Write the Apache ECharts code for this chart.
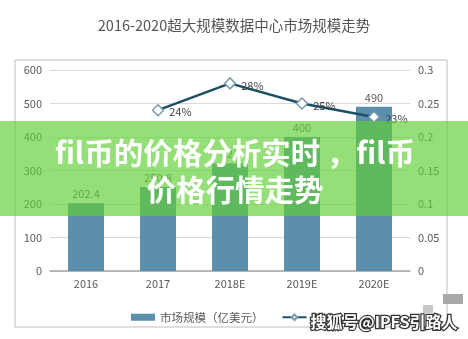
<!DOCTYPE html>
<html><head><meta charset="utf-8">
<script src="https://cdn.jsdelivr.net/npm/echarts@6/dist/echarts.min.js"></script>
<style>html,body{margin:0;padding:0;background:#fff}#c{width:468px;height:339px}</style>
</head><body><div id="c"></div>
<script>
const categories = ['2016', '2017', '2018E', '2019E', '2020E'];
const marketSize = [202.4, 250.8, 321, 400, 490];
const yoyGrowth = [null, 0.24, 0.28, 0.25, 0.23];
const leftTicks = [0, 100, 200, 300, 400, 500, 600];
const rightTicks = [0, 0.05, 0.1, 0.15, 0.2, 0.25, 0.3];
const titleText = '2016-2020超大规模数据中心市场规模走势';
const barName = '市场规模（亿美元）';
const lineName = 'YoY';
const bannerLines = ['fil币的价格分析实时 ，fil币', '价格行情走势'];
const watermark = '搜狐号@IPFS引路人';

const font = '"Noto Sans CJK SC", "Liberation Sans", sans-serif';
const chart = echarts.init(document.getElementById('c'));
chart.setOption({
  animation: false,
  backgroundColor: '#fff',
  title: { text: titleText, left: 'center', top: 13,
    textStyle: { fontFamily: font, fontSize: 14.5, fontWeight: 'normal', color: '#555' } },
  grid: { left: 50, right: 58, top: 70, bottom: 68 },
  legend: {
    bottom: 11, left: 126, itemGap: 18, itemWidth: 24, itemHeight: 7,
    textStyle: { fontFamily: font, fontSize: 11.5, color: '#595959' },
    data: [{ name: barName, icon: 'rect' }, { name: lineName }]
  },
  xAxis: {
    type: 'category', data: categories,
    axisLine: { lineStyle: { color: '#a6a6a6', width: 1.5 } },
    axisTick: { show: false },
    axisLabel: { color: '#595959', fontSize: 11, fontFamily: font, margin: 7 }
  },
  yAxis: [{
    type: 'value', min: leftTicks[0], max: leftTicks[leftTicks.length - 1], interval: 100,
    axisLabel: { color: '#595959', fontSize: 11, fontFamily: font, margin: 8 },
    splitLine: { lineStyle: { color: '#d9d9d9' } },
    axisLine: { show: false }, axisTick: { show: false }
  }, {
    type: 'value', min: rightTicks[0], max: rightTicks[rightTicks.length - 1], interval: 0.05,
    axisLabel: { color: '#595959', fontSize: 11, fontFamily: font, margin: 8 },
    splitLine: { show: false }, axisLine: { show: false }, axisTick: { show: false }
  }],
  series: [{
    name: barName, type: 'bar', data: marketSize, barWidth: '50%',
    itemStyle: { color: '#5b8fab' },
    label: { show: true, position: 'top', color: '#595959', fontSize: 11, fontFamily: font, distance: 4 }
  }, {
    name: lineName, type: 'line', yAxisIndex: 1, data: yoyGrowth,
    symbol: 'diamond', symbolSize: 11,
    lineStyle: { color: '#1c4f66', width: 2.5 },
    itemStyle: { color: '#fff', borderColor: '#7a9aa8', borderWidth: 1.5 },
    label: { show: true, position: 'right', color: '#404040', fontSize: 11, fontFamily: font,
      offset: [0, 2], formatter: p => Math.round(p.value * 100) + '%' },
    z: 5
  }],
  graphic: [
    { type: 'rect', shape: { x: 15, y: 60, width: 432, height: 267 }, silent: true,
      style: { fill: null, stroke: '#bfbfbf', lineWidth: 1 }, z: 0 },
    { type: 'rect', shape: { x: 0, y: 121, width: 468, height: 95 },
      style: { fill: 'rgba(97,208,55,0.67)' }, z: 100 },
    { type: 'text', x: 235, y: 153, z: 101,
      style: { text: bannerLines[0], fill: '#fff', font: 'bold 29.5px ' + font,
        textAlign: 'center', textVerticalAlign: 'middle',
        shadowColor: 'rgba(0,0,0,0.15)', shadowBlur: 2 } },
    { type: 'text', x: 235, y: 190, z: 101,
      style: { text: bannerLines[1], fill: '#fff', font: 'bold 29.5px ' + font,
        textAlign: 'center', textVerticalAlign: 'middle',
        shadowColor: 'rgba(0,0,0,0.15)', shadowBlur: 2 } },
    { type: 'rect', shape: { x: 443, y: 294, width: 20, height: 10 },
      style: { fill: '#a8a8a8' }, z: 100 },
    { type: 'rect', shape: { x: 423, y: 305, width: 10, height: 8 },
      style: { fill: '#c8c8c8' }, z: 100 },
    { type: 'text', x: 384, y: 322, z: 102,
      style: { text: watermark, fill: '#fff', font: 'bold 16px ' + font,
        textAlign: 'center', textVerticalAlign: 'middle',
        stroke: '#333', lineWidth: 2.5 } }
  ]
});
</script></body></html>
